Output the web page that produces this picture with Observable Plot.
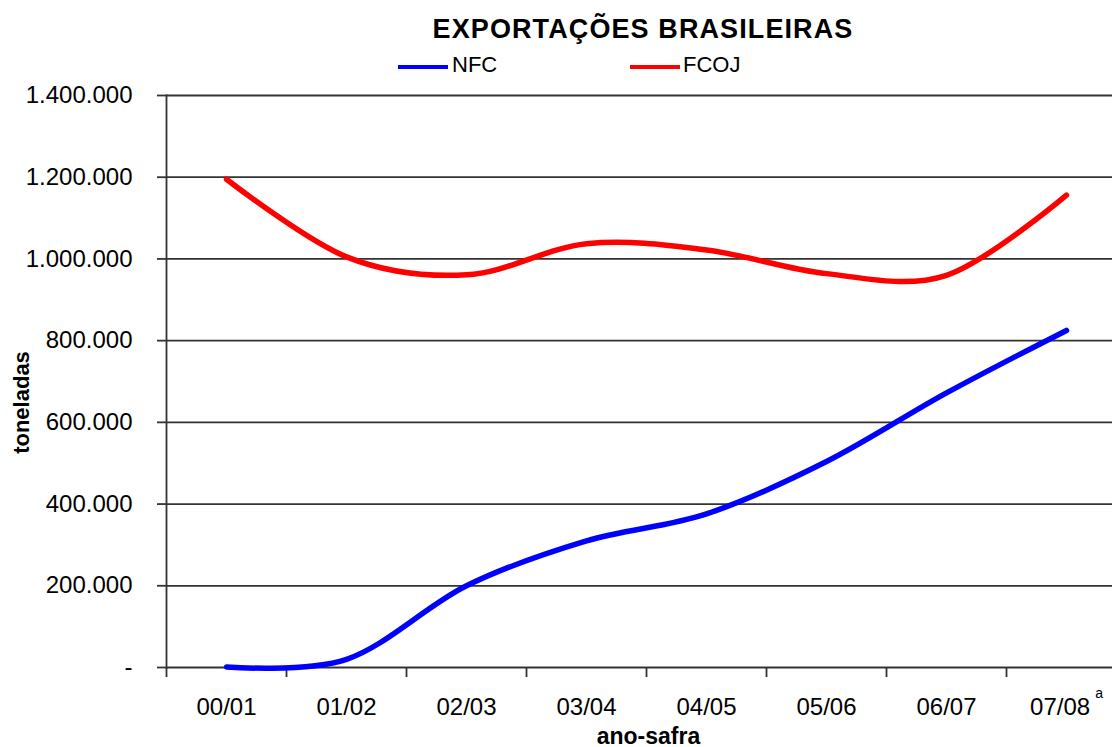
<!DOCTYPE html>
<html>
<head>
<meta charset="utf-8">
<script src="https://cdn.jsdelivr.net/npm/d3@7"></script>
<script src="https://cdn.jsdelivr.net/npm/@observablehq/plot@0.6"></script>
<style>
  html, body { margin: 0; padding: 0; background: #fff; }
  #wrap { position: relative; width: 1112px; height: 747px; font-family: "Liberation Sans", Arial, sans-serif; color: #000; }
  #title { position: absolute; left: 643px; top: 16px; transform: translateX(-50%); font-size: 27px; line-height: 27px; font-weight: bold; letter-spacing: 1.1px; white-space: nowrap; }
  .sw { position: absolute; height: 4px; width: 50px; top: 65px; }
  .lt { position: absolute; top: 54px; font-size: 22px; line-height: 22px; white-space: nowrap; }
  #chart { position: absolute; left: 0; top: 0; }
</style>
</head>
<body>
<div id="wrap">
  <div id="chart"></div>
  <div id="title"></div>
  <div id="legend"></div>
</div>
<script>
// ---- data ----
const titleText = "EXPORTAÇÕES BRASILEIRAS";
const categories = ["00/01", "01/02", "02/03", "03/04", "04/05", "05/06", "06/07", "07/08"];
const footnotes = {"07/08": "a"};
const seriesNames = ["NFC", "FCOJ"];
const nfc  = [1500, 20000, 200000, 310000, 376000, 504000, 672000, 825000];
const fcoj = [1195000, 1005000, 961000, 1037000, 1022000, 964000, 960000, 1156000];
const yTicks = [0, 200000, 400000, 600000, 800000, 1000000, 1200000, 1400000];
const yLabel = "toneladas";
const xLabel = "ano-safra";

// ---- styles ----
const seriesColors = ["#0000ff", "#ff0000"];

const rows = [];
categories.forEach((c, i) => {
  rows.push({ano: c, serie: seriesNames[0], v: nfc[i]});
  rows.push({ano: c, serie: seriesNames[1], v: fcoj[i]});
});

const locale = d3.formatLocale({decimal: ",", thousands: ".", grouping: [3], currency: ["", ""]});
const fmtNum = locale.format(",");
const fmt = d => d === 0 ? "-" : fmtNum(d);

document.getElementById("title").textContent = titleText;

// legend
const legend = document.getElementById("legend");
const legendPos = [{sw: 398, tx: 452}, {sw: 630, tx: 683}];
seriesNames.forEach((n, i) => {
  const s = document.createElement("div");
  s.className = "sw";
  s.style.left = legendPos[i].sw + "px";
  s.style.background = seriesColors[i];
  legend.appendChild(s);
  const t = document.createElement("div");
  t.className = "lt";
  t.style.left = legendPos[i].tx + "px";
  t.textContent = n;
  legend.appendChild(t);
});

const W = 1112, H = 747;
const chart = Plot.plot({
  width: W,
  height: H,
  marginTop: 95,
  marginBottom: 80,
  marginLeft: 166,
  marginRight: 0,
  style: {fontFamily: "Liberation Sans, Arial, sans-serif", fontSize: "24px", color: "#000", background: "#fff"},
  x: {type: "point", domain: categories, range: [166, 1126], padding: 0.5},
  y: {domain: [0, 1400000]},
  color: {domain: seriesNames, range: seriesColors},
  marks: [
    Plot.ruleY(yTicks, {stroke: "#333", strokeWidth: 1.8}),
    Plot.frame({anchor: "left", stroke: "#333", strokeWidth: 1.8}),
    Plot.axisY({ticks: yTicks, tickSize: 9, tickPadding: 25, tickFormat: fmt, fontSize: 24, stroke: "#333", strokeWidth: 1.8, fill: "#000", label: null}),
    Plot.axisX({tickSize: 10, tickFormat: () => "", dx: -60, stroke: "#333", strokeWidth: 1.8, label: null}),
    Plot.axisX({tickSize: 0, tickPadding: 30, fontSize: 24, fill: "#000", label: null}),
    Plot.line(rows, {x: "ano", y: "v", z: "serie", stroke: "serie", strokeWidth: 5.5, curve: "cardinal", strokeLinecap: "round"}),
    Plot.text([yLabel], {frameAnchor: "left", textAnchor: "middle", dx: -145, dy: 21, rotate: -90, fontWeight: "bold", fontSize: 22, fill: "#000"}),
    Plot.text([xLabel], {frameAnchor: "bottom", textAnchor: "middle", dx: 9, dy: 76, lineAnchor: "bottom", fontWeight: "bold", fontSize: 23, fill: "#000"})
  ]
});
document.getElementById("chart").appendChild(chart);

// footnote marks on tick labels
d3.select(chart).selectAll("text").each(function() {
  const t = this.textContent;
  if (footnotes[t] && this.childElementCount === 0) {
    const sel = d3.select(this);
    sel.text(t);
    sel.append("tspan").attr("dx", 5).attr("dy", -17).attr("font-size", 14).text(footnotes[t]);
  }
});
</script>
</body>
</html>
